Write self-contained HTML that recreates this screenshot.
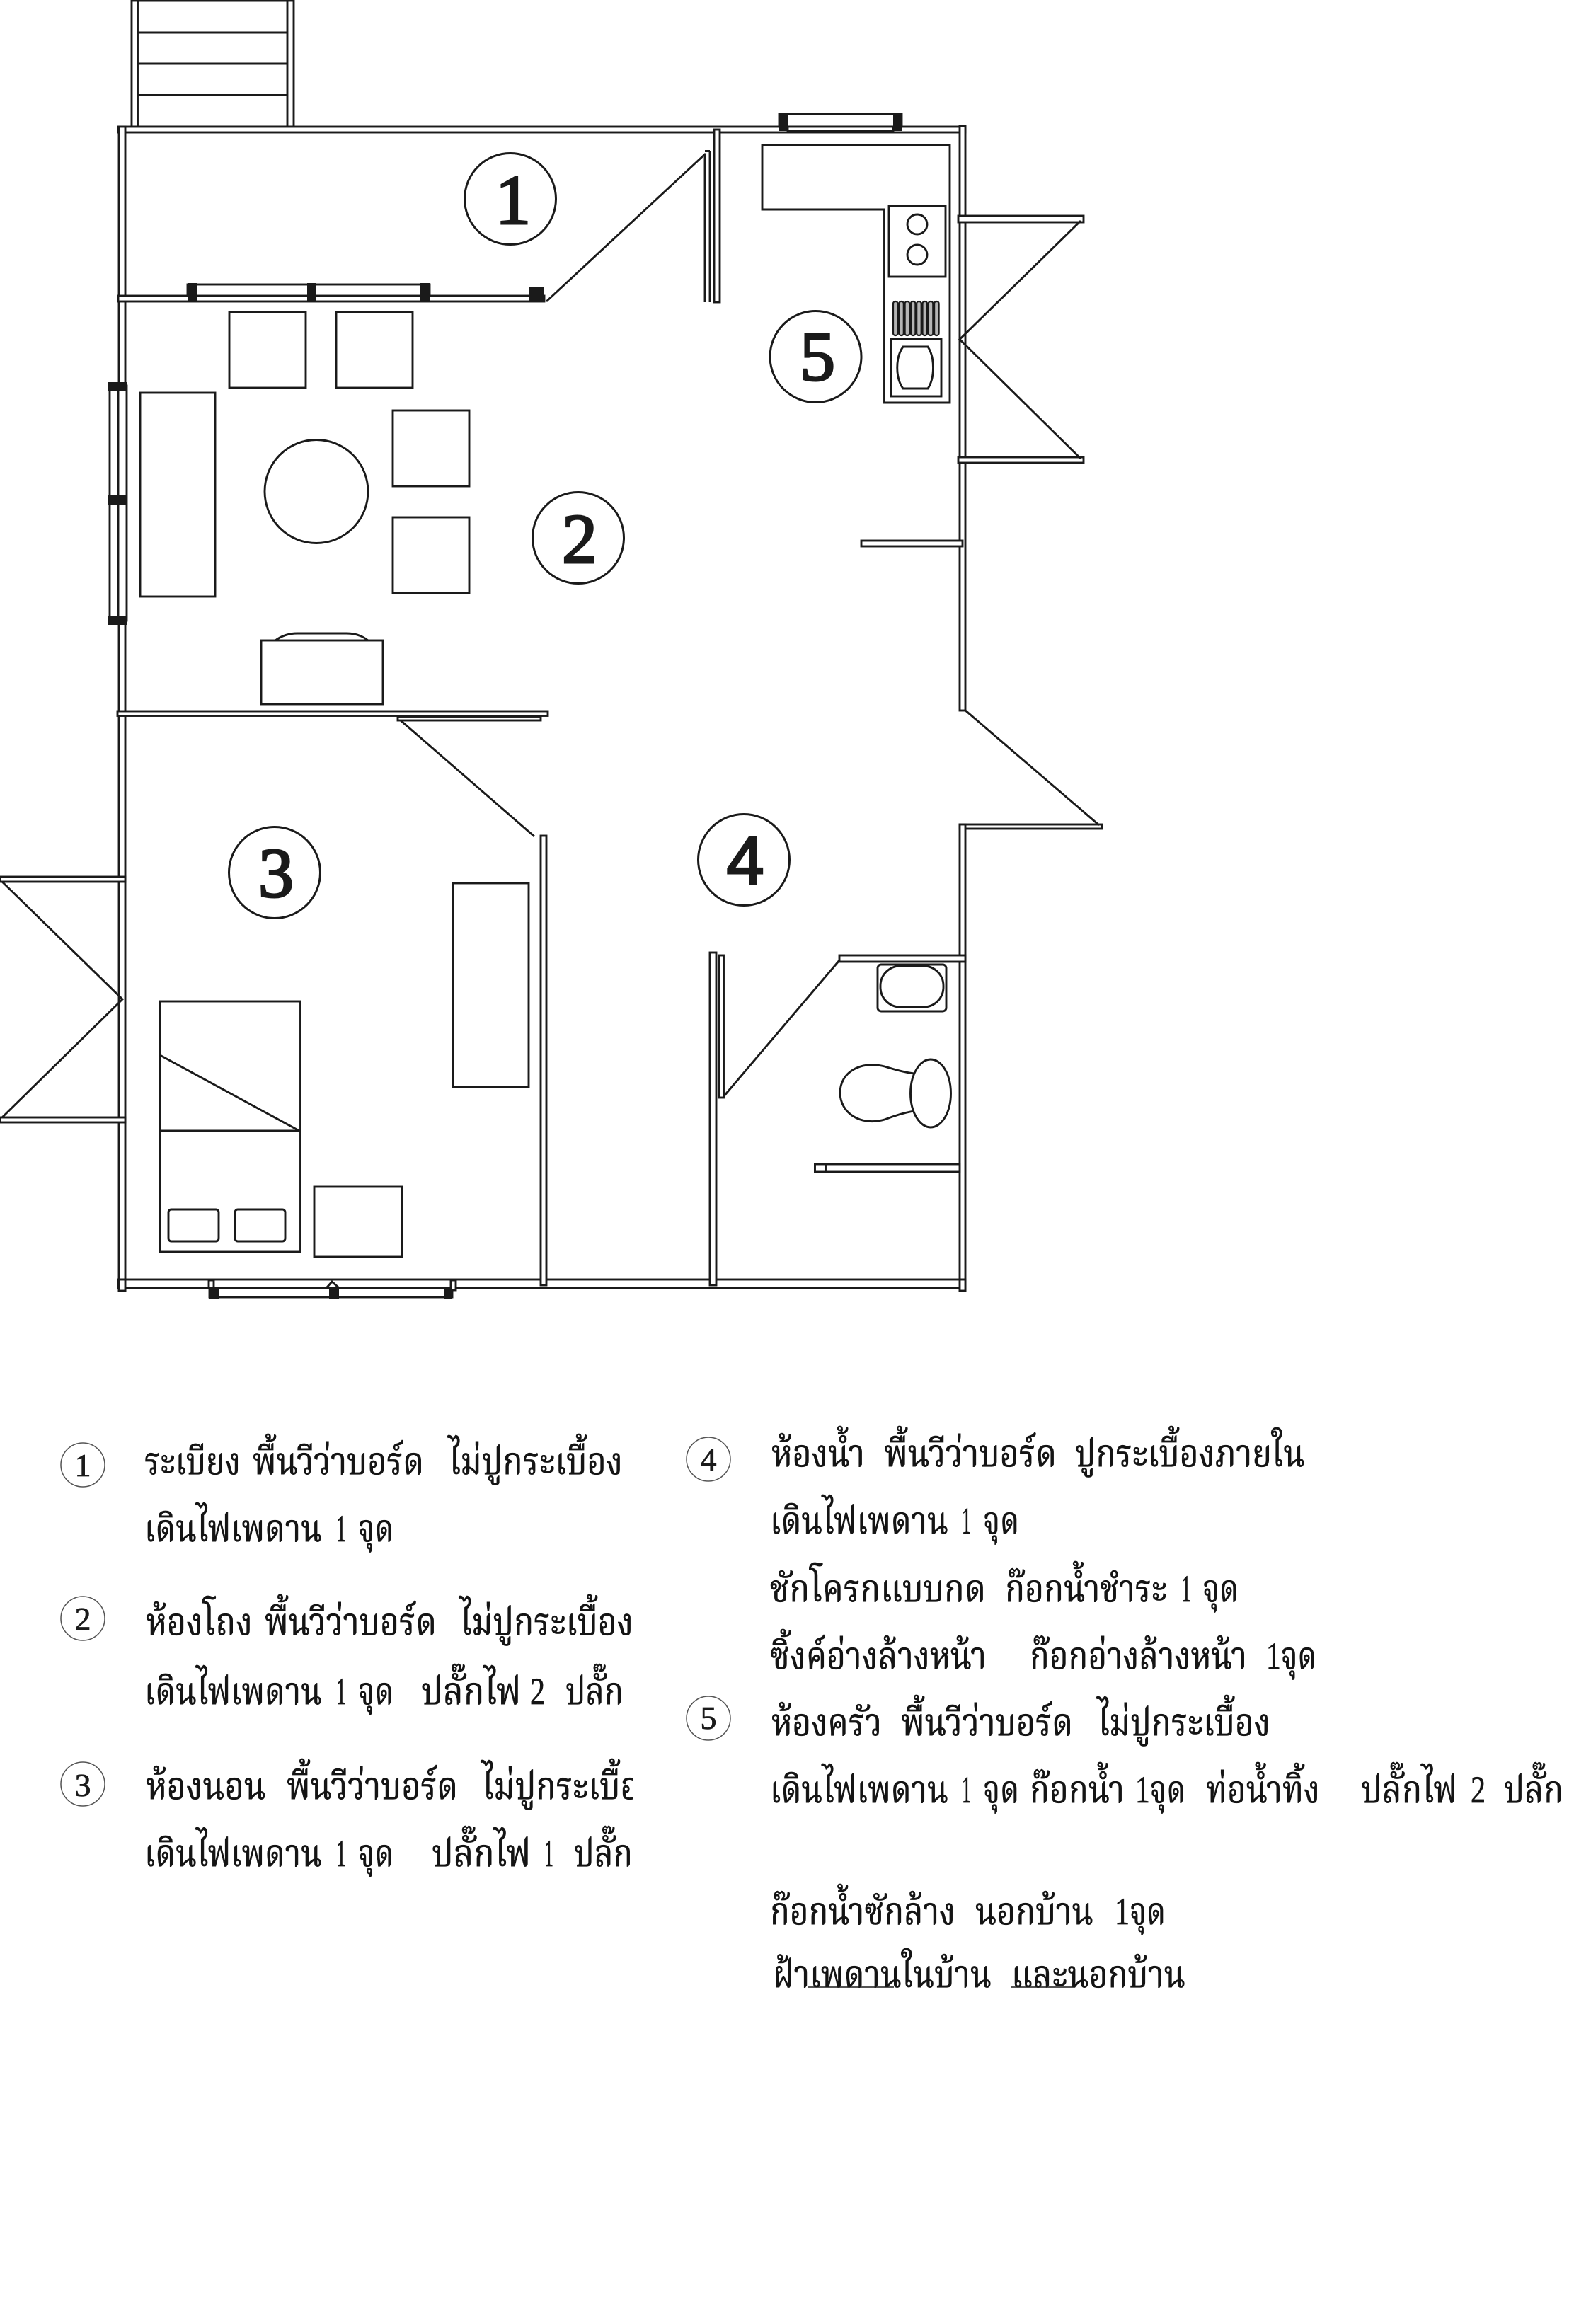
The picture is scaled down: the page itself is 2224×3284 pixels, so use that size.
<!DOCTYPE html>
<html lang="th"><head><meta charset="utf-8"><title>แปลนบ้าน</title>
<style>
html,body{margin:0;padding:0;background:#fff}
svg{display:block}
.l{fill:none;stroke:#1a1a1a;stroke-width:2.9}
.w{fill:#fff;stroke:#1a1a1a;stroke-width:2.9}
.t{fill:#141414;stroke:#141414;stroke-width:.7;font-family:"Liberation Serif","Noto Serif Thai","Noto Sans Thai","Garuda","Loma",serif;font-size:54px}
.d{fill:#1a1a1a;font-family:"Liberation Serif",serif;text-anchor:middle}
.b{fill:#1a1a1a;stroke:none}
</style></head><body>
<svg xmlns="http://www.w3.org/2000/svg" width="2224" height="3284" viewBox="0 0 2224 3284">
<defs><clipPath id="c"><rect x="0" y="2000" width="895" height="700"/></clipPath></defs>
<rect width="2224" height="3284" fill="#fff"/>
<g class="l">
<rect x="186" y="1" width="229" height="178"/><rect x="194.5" y="1" width="211.5" height="178"/>
<path d="M194 46H406M194 90H406M194 134.500H406"/>
</g>
<g class="w">
<!-- walls -->
<rect x="167" y="179" width="1197" height="8"/>
<rect x="168" y="179" width="9" height="1645"/>
<rect x="167" y="418" width="602" height="8"/>
<rect x="265" y="402" width="342" height="16"/>
<rect x="155" y="545" width="24" height="332"/><path d="M167 545V877" fill="none"/>
<rect x="1009" y="183" width="8" height="244"/>
<rect x="1356" y="178" width="8" height="826"/>
<rect x="1101" y="161" width="173" height="18"/><rect x="1113" y="179" width="149" height="6"/>
<rect x="1354" y="305" width="177" height="9"/>
<rect x="1354" y="646" width="177" height="8"/>
<rect x="1217" y="764" width="143" height="8"/>
<rect x="1356" y="1165" width="201" height="6"/>
<rect x="1356" y="1165" width="8" height="659"/>
<rect x="166" y="1005" width="608" height="6.500"/>
<rect x="562" y="1012.500" width="202" height="5.500"/>
<rect x="0" y="1239" width="177" height="7"/>
<rect x="0" y="1579" width="177" height="7"/>
<rect x="167" y="1808" width="1197" height="12"/>
<rect x="168" y="1808" width="9" height="16"/>
<rect x="1356" y="1808" width="8" height="16"/>
<rect x="296" y="1820" width="343" height="13"/>
<rect x="295" y="1809" width="7" height="11"/><rect x="637" y="1809" width="7" height="14"/>
<rect x="764" y="1181" width="8" height="635"/>
<rect x="1003" y="1346" width="9" height="470"/>
<rect x="1016" y="1350" width="6.500" height="201"/>
<rect x="1186" y="1350" width="178" height="9"/>
<rect x="1151.500" y="1645" width="204.500" height="11"/>
<rect x="1151.500" y="1645" width="15" height="11"/>
<!-- living -->
<rect x="324" y="441" width="108" height="107"/><rect x="475" y="441" width="108" height="107"/>
<rect x="198" y="555" width="106" height="288"/>
<circle cx="447" cy="694.500" r="73"/>
<rect x="555" y="580" width="108" height="107"/><rect x="555" y="731" width="108" height="107"/>
<path d="M389 905C400 897 410 895 420 895H490C500 895 510 897 520 905"/>
<rect x="369" y="905" width="172" height="90"/>
<!-- kitchen -->
<path d="M1077 205H1342V569H1249.500V296H1077Z"/>
<rect x="1256" y="291" width="80" height="100"/>
<circle cx="1296" cy="317" r="14"/><circle cx="1296" cy="360" r="14"/>
<rect x="1259" y="479" width="71" height="81"/>
<path d="M1276 490H1311C1321 505 1321 534 1311 549H1276C1265 534 1265 505 1276 490Z"/>
</g>
<!-- door swings (drawn over walls) -->
<g class="l">
<path d="M772 426L997 217M996 218V427M1003 213.500V427M996 213.500H1003"/>
<path d="M1527 312L1356 479.500L1527 648"/>
<path d="M1363 1003L1553 1166"/>
<path d="M566 1018L755 1182"/>
<path d="M3 1246L173 1412L3 1579"/>
<path d="M1022 1550L1186 1357"/>
</g>
<g fill="#b5b5b5" stroke="#1a1a1a" stroke-width="2.200">
<rect x="1262" y="426" width="6.500" height="48" rx="3"/><rect x="1270.300" y="426" width="6.500" height="48" rx="3"/><rect x="1278.600" y="426" width="6.500" height="48" rx="3"/><rect x="1286.900" y="426" width="6.500" height="48" rx="3"/><rect x="1295.200" y="426" width="6.500" height="48" rx="3"/><rect x="1303.500" y="426" width="6.500" height="48" rx="3"/><rect x="1311.800" y="426" width="6.500" height="48" rx="3"/><rect x="1320.100" y="426" width="6.500" height="48" rx="3"/>
</g>
<g class="w">
<!-- bedroom -->
<rect x="640" y="1248" width="107" height="288"/>
<rect x="226" y="1415" width="198.500" height="354"/>
<path d="M226 1598H424M226 1491L423 1598" fill="none"/>
<rect x="238" y="1709" width="71" height="45" rx="4"/><rect x="332" y="1709" width="71" height="45" rx="4"/>
<rect x="444" y="1677" width="124" height="99"/>
<path d="M462 1819L469 1811L478 1819" fill="none"/>
<!-- bathroom -->
<rect x="1240" y="1363" width="97" height="66" rx="5"/>
<rect x="1244" y="1365" width="89" height="58" rx="28"/>
<path d="M1292 1517C1275 1515 1260 1510 1250 1507C1215 1498 1187 1516 1187 1544C1187 1572 1215 1592 1250 1582C1265 1576 1280 1572 1291 1570Z"/>
<ellipse cx="1315" cy="1545" rx="28.500" ry="48"/>
</g>
<g class="b">
<rect x="265" y="400" width="13" height="27"/><rect x="434" y="400" width="12" height="27"/><rect x="594" y="400" width="13" height="27"/>
<rect x="748" y="406" width="21" height="20"/>
<rect x="153" y="540" width="27" height="12"/><rect x="153" y="700" width="27" height="13"/><rect x="153" y="870" width="27" height="13"/>
<rect x="1101" y="159" width="12" height="26"/><rect x="1262" y="159" width="12" height="26"/>
<rect x="296" y="1818" width="13" height="18"/><rect x="465" y="1818" width="14" height="18"/><rect x="627" y="1818" width="12" height="18"/>
</g>
<!-- big circles -->
<g class="w" style="stroke-width:3">
<circle cx="721" cy="281" r="64.500"/><circle cx="817" cy="760" r="64.500"/><circle cx="388" cy="1233" r="64.500"/><circle cx="1051" cy="1215" r="64.500"/><circle cx="1152.500" cy="504" r="64.500"/>
</g>
<g class="d" font-size="100" stroke="#1a1a1a" stroke-width="3">
<text x="725" y="316">1</text><text x="819" y="795">2</text><text x="390" y="1267">3</text><text x="1155" y="537">5</text>
<text x="1053" y="1249" style="font-family:'Liberation Sans',sans-serif" font-size="95">4</text>
</g>
<!-- small circles -->
<g fill="#fff" stroke="#555" stroke-width="1.500">
<circle cx="117" cy="2070" r="31"/><circle cx="117" cy="2287" r="31"/><circle cx="117" cy="2521" r="31"/><circle cx="1001" cy="2062" r="31"/><circle cx="1001" cy="2428" r="31"/>
</g>
<g class="d" font-size="46" stroke="#1a1a1a" stroke-width=".8">
<text x="117" y="2086">1</text><text x="117" y="2303">2</text><text x="117" y="2538">3</text><text x="1001" y="2078">4</text><text x="1001" y="2443">5</text>
</g>
<g class="t">
<text x="204" y="2083" textLength="136" lengthAdjust="spacingAndGlyphs">ระเบียง</text>
<text x="357" y="2083" textLength="242" lengthAdjust="spacingAndGlyphs">พื้นวีว่าบอร์ด</text>
<text x="634" y="2083" textLength="246" lengthAdjust="spacingAndGlyphs">ไม่ปูกระเบื้อง</text>
<text x="204" y="2178" textLength="251" lengthAdjust="spacingAndGlyphs">เดินไฟเพดาน</text>
<text x="475" y="2178" textLength="14" lengthAdjust="spacingAndGlyphs">1</text>
<text x="506" y="2178" textLength="50" lengthAdjust="spacingAndGlyphs">จุด</text>
<text x="206" y="2310" textLength="151" lengthAdjust="spacingAndGlyphs">ห้องโถง</text>
<text x="374" y="2310" textLength="243" lengthAdjust="spacingAndGlyphs">พื้นวีว่าบอร์ด</text>
<text x="650" y="2310" textLength="245" lengthAdjust="spacingAndGlyphs">ไม่ปูกระเบื้อง</text>
<text x="204" y="2408" textLength="251" lengthAdjust="spacingAndGlyphs">เดินไฟเพดาน</text>
<text x="475" y="2408" textLength="14" lengthAdjust="spacingAndGlyphs">1</text>
<text x="506" y="2408" textLength="50" lengthAdjust="spacingAndGlyphs">จุด</text>
<text x="595" y="2408" textLength="141" lengthAdjust="spacingAndGlyphs">ปลั๊กไฟ</text>
<text x="749" y="2408" textLength="21" lengthAdjust="spacingAndGlyphs">2</text>
<text x="799" y="2408" textLength="82" lengthAdjust="spacingAndGlyphs">ปลั๊ก</text>
<text x="206" y="2542" textLength="170" lengthAdjust="spacingAndGlyphs">ห้องนอน</text>
<text x="405" y="2542" textLength="242" lengthAdjust="spacingAndGlyphs">พื้นวีว่าบอร์ด</text>
<text x="681" y="2542" textLength="246" lengthAdjust="spacingAndGlyphs" clip-path="url(#c)">ไม่ปูกระเบื้อง</text>
<text x="204" y="2637" textLength="251" lengthAdjust="spacingAndGlyphs">เดินไฟเพดาน</text>
<text x="475" y="2637" textLength="14" lengthAdjust="spacingAndGlyphs">1</text>
<text x="506" y="2637" textLength="50" lengthAdjust="spacingAndGlyphs">จุด</text>
<text x="610" y="2637" textLength="140" lengthAdjust="spacingAndGlyphs">ปลั๊กไฟ</text>
<text x="769" y="2637" textLength="13" lengthAdjust="spacingAndGlyphs">1</text>
<text x="811" y="2637" textLength="83" lengthAdjust="spacingAndGlyphs">ปลั๊ก</text>

<text x="1090" y="2072" textLength="132" lengthAdjust="spacingAndGlyphs">ห้องน้ำ</text>
<text x="1249" y="2072" textLength="244" lengthAdjust="spacingAndGlyphs">พื้นวีว่าบอร์ด</text>
<text x="1519" y="2072" textLength="325" lengthAdjust="spacingAndGlyphs">ปูกระเบื้องภายใน</text>
<text x="1088" y="2167" textLength="252" lengthAdjust="spacingAndGlyphs">เดินไฟเพดาน</text>
<text x="1359" y="2167" textLength="13" lengthAdjust="spacingAndGlyphs">1</text>
<text x="1389" y="2167" textLength="51" lengthAdjust="spacingAndGlyphs">จุด</text>
<text x="1088" y="2263" textLength="305" lengthAdjust="spacingAndGlyphs">ชักโครกแบบกด</text>
<text x="1420" y="2263" textLength="229" lengthAdjust="spacingAndGlyphs">ก๊อกน้ำชำระ</text>
<text x="1669" y="2263" textLength="14" lengthAdjust="spacingAndGlyphs">1</text>
<text x="1699" y="2263" textLength="51" lengthAdjust="spacingAndGlyphs">จุด</text>
<text x="1088" y="2358" textLength="306" lengthAdjust="spacingAndGlyphs">ซิ้งค์อ่างล้างหน้า</text>
<text x="1455" y="2358" textLength="307" lengthAdjust="spacingAndGlyphs">ก๊อกอ่างล้างหน้า</text>
<text x="1789" y="2358" textLength="71" lengthAdjust="spacingAndGlyphs">1จุด</text>
<text x="1090" y="2452" textLength="156" lengthAdjust="spacingAndGlyphs">ห้องครัว</text>
<text x="1273" y="2452" textLength="243" lengthAdjust="spacingAndGlyphs">พื้นวีว่าบอร์ด</text>
<text x="1551" y="2452" textLength="244" lengthAdjust="spacingAndGlyphs">ไม่ปูกระเบื้อง</text>
<text x="1088" y="2547" textLength="252" lengthAdjust="spacingAndGlyphs">เดินไฟเพดาน</text>
<text x="1359" y="2547" textLength="13" lengthAdjust="spacingAndGlyphs">1</text>
<text x="1389" y="2547" textLength="51" lengthAdjust="spacingAndGlyphs">จุด</text>
<text x="1455" y="2547" textLength="134" lengthAdjust="spacingAndGlyphs">ก๊อกน้ำ</text>
<text x="1604" y="2547" textLength="71" lengthAdjust="spacingAndGlyphs">1จุด</text>
<text x="1704" y="2547" textLength="161" lengthAdjust="spacingAndGlyphs">ท่อน้ำทิ้ง</text>
<text x="1923" y="2547" textLength="136" lengthAdjust="spacingAndGlyphs">ปลั๊กไฟ</text>
<text x="2078" y="2547" textLength="21" lengthAdjust="spacingAndGlyphs">2</text>
<text x="2125" y="2547" textLength="84" lengthAdjust="spacingAndGlyphs">ปลั๊ก</text>
<text x="1088" y="2719" textLength="262" lengthAdjust="spacingAndGlyphs">ก๊อกน้ำซักล้าง</text>
<text x="1378" y="2719" textLength="167" lengthAdjust="spacingAndGlyphs">นอกบ้าน</text>
<text x="1575" y="2719" textLength="72" lengthAdjust="spacingAndGlyphs">1จุด</text>
<text x="1092" y="2808" textLength="309" lengthAdjust="spacingAndGlyphs">ฝ้าเพดานในบ้าน</text>
<text x="1429" y="2808" textLength="246" lengthAdjust="spacingAndGlyphs">และนอกบ้าน</text>
</g>
<path d="M1141 2808H1263M1429 2808H1519" stroke="#1a1a1a" stroke-width="1.500" fill="none"/>
</svg>
</body></html>
